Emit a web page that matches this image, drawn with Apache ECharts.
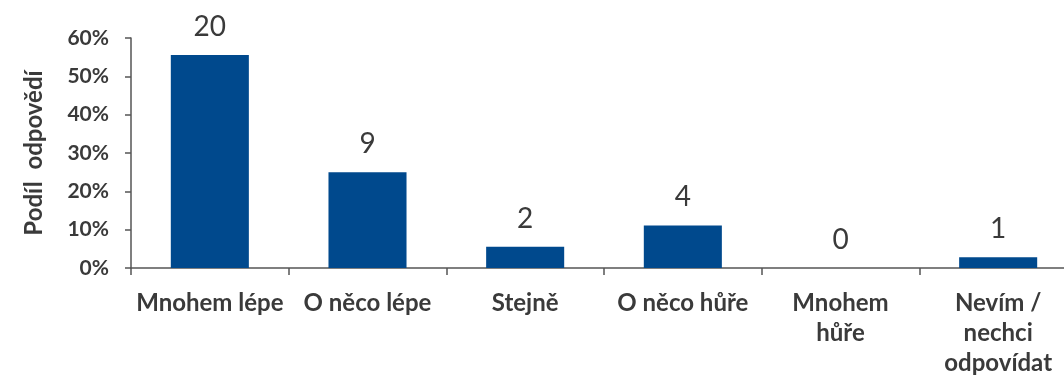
<!DOCTYPE html>
<html>
<head>
<meta charset="utf-8">
<script src="https://cdn.jsdelivr.net/npm/echarts@6/dist/echarts.min.js"></script>
<style>
  html, body { margin: 0; padding: 0; background: #fff; }
  #chart { width: 1064px; height: 379px; }
</style>
</head>
<body>
<div id="chart"></div>
<script>
// Answer categories and number of respondents per answer
const categories = ['Mnohem lépe', 'O něco lépe', 'Stejně', 'O něco hůře', 'Mnohem\nhůře', 'Nevím /\nnechci\nodpovídat'];
const counts = [20, 9, 2, 4, 0, 1];
const yTicks = [0, 0.1, 0.2, 0.3, 0.4, 0.5, 0.6];

// Bar height = share of all answers, label = raw count
const total = counts.reduce((a, b) => a + b, 0);
const shares = counts.map(c => c / total);

const font = 'Lato, "Open Sans", sans-serif';
const textColor = '#3a3a3a';
const axisColor = '#555555';

const chart = echarts.init(document.getElementById('chart'));
chart.setOption({
  animation: false,
  grid: { left: 131, right: -13, top: 38, bottom: 111, containLabel: false, outerBoundsMode: 'none' },
  xAxis: {
    type: 'category',
    data: categories,
    boundaryGap: true,
    axisLine: { show: true, lineStyle: { color: axisColor, width: 1.5 } },
    axisTick: { show: true, alignWithLabel: false, length: 7, lineStyle: { color: axisColor, width: 1.5 } },
    axisLabel: {
      interval: 0,
      margin: 20,
      color: textColor,
      fontFamily: font,
      fontWeight: 'bold',
      fontSize: 24,
      lineHeight: 30
    }
  },
  yAxis: {
    type: 'value',
    min: yTicks[0],
    max: yTicks[yTicks.length - 1],
    interval: 0.1,
    name: 'Podíl  odpovědí',
    nameLocation: 'middle',
    nameRotate: 90,
    nameGap: 85,
    nameTextStyle: { color: textColor, fontFamily: font, fontWeight: 'bold', fontSize: 24 },
    splitLine: { show: false },
    axisLine: { show: true, lineStyle: { color: axisColor, width: 1.5 } },
    axisTick: { show: true, length: 6, lineStyle: { color: axisColor, width: 1.5 } },
    axisLabel: {
      margin: 22,
      color: textColor,
      fontFamily: font,
      fontWeight: 'bold',
      fontSize: 21,
      formatter: v => Math.round(v * 100) + '%'
    }
  },
  series: [{
    type: 'bar',
    data: shares,
    barWidth: '49.5%',
    itemStyle: { color: '#00498d' },
    label: {
      show: true,
      position: 'top',
      distance: 14,
      color: textColor,
      fontFamily: font,
      fontSize: 28,
      formatter: p => String(counts[p.dataIndex])
    }
  }]
});
</script>
</body>
</html>
